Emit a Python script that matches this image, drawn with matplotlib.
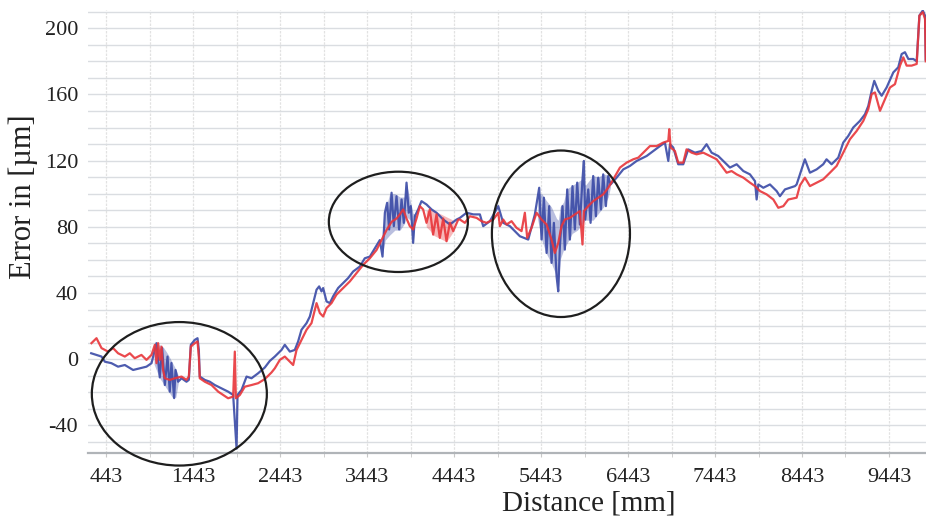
import matplotlib
matplotlib.use('Agg')
import matplotlib.pyplot as plt
from matplotlib.patches import Ellipse
from matplotlib.ticker import MultipleLocator, FixedLocator

plt.rcParams['font.family'] = ['Liberation Serif', 'DejaVu Serif']
plt.rcParams['axes.unicode_minus'] = False

# distance [mm] / error [um]
blue_x = [267, 386, 424, 500, 576, 654, 749, 826, 903, 961,
          1018, 1056, 1083, 1114, 1145, 1171, 1190, 1221, 1237, 1267,
          1306, 1363, 1390, 1413, 1459, 1490, 1505, 1516, 1574, 1631, 1689, 1766, 1842, 1900, 1939, 1950,
          1996, 2054, 2111, 2187, 2264, 2322, 2379, 2456, 2494, 2552, 2609, 2647, 2686, 2744, 2782,
          2820, 2859, 2889, 2916, 2935, 2974, 3012, 3050, 3107, 3165, 3222, 3280, 3357, 3414, 3472,
          3530, 3587, 3618, 3645, 3671, 3694, 3722, 3748, 3779, 3809, 3837, 3863, 3894, 3920, 3943,
          3970, 3990, 4028, 4066, 4124, 4182, 4239, 4316, 4393, 4470, 4508, 4585, 4662, 4738, 4776,
          4853, 4949, 5006, 5083, 5198, 5294, 5370, 5420, 5447, 5474, 5505, 5535, 5562, 5589, 5620,
          5639, 5658, 5688, 5715, 5742, 5773, 5803, 5830, 5857, 5888, 5918, 5934, 5949, 5984, 6011,
          6041, 6072, 6099, 6130, 6156, 6187, 6214, 6241, 6310, 6387, 6464, 6541, 6579, 6656, 6732,
          6809, 6866, 6905, 6924, 6962, 7019, 7077, 7134, 7211, 7288, 7345, 7403, 7479, 7556, 7614,
          7691, 7768, 7844, 7902, 7921, 7940, 7998, 8074, 8151, 8189, 8247, 8304, 8362, 8381, 8438,
          8476, 8534, 8611, 8687, 8725, 8783, 8860, 8917, 8975, 9032, 9109, 9167, 9205, 9244, 9274,
          9320, 9359, 9416, 9493, 9550, 9589, 9627, 9666, 9723, 9762, 9793, 9832, 9858, 9866]
blue_y = [3.6, 1.6, -1.5, -2.4, -4.5, -3.5, -6.5, -5.5, -4.5, -2.4,
          9.7, -11, 6.8, -15.6, 1.6, -19.6, -2.3, -23.5, -6.5, -13.6,
          -11.5, -13.6, -12.5, 8.7, 11.7, 12.7, 5.6, -10.5, -12.5, -13.6, -15.6, -17.6, -19.6, -21.6, -54, -21.6,
          -18.6, -10.5, -11.5, -8.5, -5, -1, 1.6, 5.6, 8.7, 4.6, 5.6, 10.7, 17.8, 21.8, 25.8,
          33.9, 42, 44, 41, 43, 34.9, 33.9, 38, 43, 46, 49, 53, 56, 61, 62,
          67, 72, 62, 88.5, 94.5, 78.4, 100.6, 80.4, 98.5, 78.4, 96.5, 82.4, 106.7, 88.5, 92.5,
          70.3, 86.4, 90.5, 95.5, 93.5, 90.5, 88.5, 84.4, 81.4, 84.4, 85.4, 88.5, 87.5, 87.5, 80.4,
          83.4, 92.5, 82.4, 80.4, 74.3, 72.3, 87.5, 103.6, 72.3, 97.6, 64.2, 92.5, 58.2, 82.4, 50.1,
          41, 68.2, 92.5, 66.2, 102.6, 72.3, 104.6, 78.4, 106.7, 81.4, 108.7, 119.8, 84.4, 102.6, 82.4,
          110.7, 86.4, 109.7, 90.5, 111.7, 92.5, 110.7, 105.6, 109.7, 114.7, 116.8, 119.8, 120.8, 122.8, 125.8,
          128.8, 130.9, 119.8, 129.9, 127.9, 117.8, 117.8, 126.8, 124.8, 125.8, 129.9, 124.8, 122.8, 118.8, 115.8,
          117.8, 113.7, 111.7, 107.6, 96.5, 105.6, 103.6, 105.6, 101.6, 98.5, 102.6, 103.6, 104.6, 105.6, 114.7,
          120.8, 112.7, 114.7, 117.8, 120.8, 117.8, 121.8, 130.9, 134.9, 140, 144, 148, 153, 162.2, 168.2,
          162.2, 159.2, 164.2, 173.3, 176.4, 184.4, 185.5, 181.4, 181.4, 180, 207.6, 210.7, 207.6, 181]

red_x = [270, 328, 386, 461, 519, 576, 654, 711, 768, 845, 903, 961,
         999, 1018, 1037, 1056, 1076, 1094, 1114, 1171, 1229, 1306, 1363, 1390, 1413, 1459, 1490,
         1505, 1516, 1574, 1651, 1728, 1785, 1842, 1900, 1919, 1931, 1977, 2034, 2111, 2187, 2264,
         2341, 2379, 2437, 2494, 2552, 2590, 2629, 2686, 2744, 2801, 2859, 2897, 2935, 2974, 3031,
         3088, 3165, 3242, 3318, 3395, 3472, 3549, 3606, 3664, 3722, 3779, 3817, 3856, 3894, 3932,
         3970, 4009, 4047, 4085, 4124, 4162, 4200, 4239, 4277, 4316, 4354, 4393, 4431, 4489, 4508,
         4565, 4623, 4700, 4757, 4815, 4891, 4949, 4968, 5006, 5044, 5102, 5159, 5217, 5255, 5282,
         5332, 5390, 5447, 5505, 5562, 5600, 5639, 5677, 5715, 5773, 5830, 5888, 5918, 5934, 5984,
         6041, 6099, 6156, 6214, 6272, 6349, 6426, 6502, 6560, 6617, 6694, 6771, 6847, 6905, 6916,
         6932, 6981, 7019, 7077, 7115, 7173, 7230, 7307, 7384, 7461, 7518, 7576, 7633, 7691, 7768,
         7844, 7902, 7959, 8036, 8113, 8170, 8228, 8285, 8381, 8419, 8476, 8534, 8611, 8687, 8764,
         8841, 8917, 8994, 9071, 9148, 9205, 9244, 9282, 9340, 9397, 9455, 9512, 9570, 9608, 9646,
         9704, 9762, 9793, 9832, 9858, 9866]
red_y = [9.7, 12.7, 6.7, 4.6, 6.7, 3.6, 1.6, 3.6, 0.6, 2.6, -0.4, 2.6,
         8.7, -2.4, 9.7, -0.4, 7.6, -6.5, -11.5, -12.5, -11.5, -10.5, -12.5, -10.5, 7.6, 9.7, 10.7,
         1.6, -11.5, -13.6, -15.6, -19.6, -21.6, -23.6, -22.6, 4.6, -23.6, -21.6, -16.6, -15.6, -14.5, -12,
         -8, -5.5, -0.4, 1.6, -1.5, -3.5, 5.6, 11.7, 17.8, 21.8, 33.9, 27.9, 25.8, 30.9, 33.9,
         39, 43, 47, 52, 57, 61, 66, 72, 78, 83, 85, 87.5, 90.5, 85, 80.4,
         78.4, 85, 92.5, 90.5, 82.4, 90.5, 75.3, 87.5, 73.3, 85, 71.3, 82.4, 77.4, 84.4, 84.4,
         82.4, 86.4, 85.4, 83.4, 82.4, 84.4, 88.5, 80.4, 84.4, 81.4, 83.4, 79.4, 77.4, 88.5, 73.3,
         79.4, 88.5, 84.4, 81.4, 72.3, 64.2, 70.3, 80.4, 84.4, 85.4, 87.5, 89.5, 69.3, 89.5, 92.5,
         95.5, 97.6, 99.6, 103.6, 108.7, 115.8, 118.8, 120.8, 121.8, 124.8, 128.8, 128.8, 130.9, 131.9, 139,
         127.9, 125.8, 118.8, 118.8, 126.8, 124.8, 123.8, 124.8, 122.8, 120.8, 116.8, 112.7, 113.7, 111.7, 109.7,
         106.7, 104.6, 101.6, 99.6, 96.5, 91.5, 92.5, 96.5, 97.6, 105, 109.7, 104.6, 106.7, 108.7, 112.7,
         116.8, 124.8, 132.9, 137.9, 144, 151.1, 160.2, 161.2, 150.1, 157.1, 164.2, 166.2, 177.4, 182.4, 177.4,
         177.4, 178.4, 207.6, 209.7, 205.6, 180]

# noisy bands (x, low, high) where the traces blur into a band
blue_band_x = [990, 1050, 1100, 1150, 1200, 1240, 1270, None,
               3610, 3650, 3700, 3760, 3820, 3870, 3894, 3940, 3970, 3990, None,
               5400, 5450, 5500, 5560, 5620, 5640, 5660, 5700, 5740, 5800, 5860, 5918, 5950, 6040, 6100, 6160, 6214, 6240]
blue_band_lo = [-3, -11, -15, -19, -23, -23, -14, None,
                62, 72, 75, 78, 78, 82, 86, 84, 70, 84, None,
                85, 72, 64, 58, 50, 41, 60, 66, 70, 76, 78, 82, 84, 84, 88, 92, 98, 104]
blue_band_hi = [2, 9, 7, 3, -2, -6, -10, None,
                70, 90, 100, 100, 98, 98, 106, 95, 88, 88, None,
                100, 100, 96, 92, 85, 84, 92, 95, 103, 105, 107, 109, 105, 111, 110, 112, 111, 106]
red_band_x = [4120, 4160, 4200, 4277, 4354, 4431]
red_band_lo = [80, 78, 75, 73, 71, 77]
red_band_hi = [90, 90, 90, 88, 86, 84]

x_ticks = [443, 1443, 2443, 3443, 4443, 5443, 6443, 7443, 8443, 9443]
y_ticks = [-40, 0, 40, 80, 120, 160, 200]

# circled regions: (centre x, centre y, width, height)
circles = [(1281, -20.9, 2013, 86.7),
           (3800, 83.0, 1599, 60.6),
           (5670, 75.8, 1588, 100.6)]

fig = plt.figure(figsize=(9.26, 5.27), dpi=100)
ax = fig.add_axes([0.095, 0.14, 0.905, 0.841])

# bands (split at None)
def bands(xs, lo, hi, color):
    seg = ([], [], [])
    for a, b, c in zip(xs + [None], lo + [None], hi + [None]):
        if a is None:
            if seg[0]:
                ax.fill_between(seg[0], seg[1], seg[2], color=color, alpha=0.35, lw=0)
            seg = ([], [], [])
        else:
            seg[0].append(a); seg[1].append(b); seg[2].append(c)

bands(blue_band_x, blue_band_lo, blue_band_hi, '#3a4aa6')
ax.plot(blue_x, blue_y, color='#3a4aa6', lw=1.6, alpha=0.9)
bands(red_band_x, red_band_lo, red_band_hi, '#e8353a')
ax.plot(red_x, red_y, color='#e8353a', lw=1.6, alpha=0.9)

for cx, cy, w, h in circles:
    ax.add_patch(Ellipse((cx, cy), w, h, fill=False, ec='#1e1e1e', lw=1.6, clip_on=False, zorder=5))

ax.set_xlim(230, 9869)
ax.set_ylim(-56.8, 211)
ax.xaxis.set_major_locator(FixedLocator(x_ticks))
ax.xaxis.set_minor_locator(FixedLocator([t + 500 for t in x_ticks]))
ax.yaxis.set_major_locator(FixedLocator(y_ticks))
ax.yaxis.set_minor_locator(MultipleLocator(10))

ax.grid(True, which='both', axis='y', color='#dadde1', lw=1.0)
ax.grid(True, which='both', axis='x', color='#e2e2e2', lw=0.9, ls=(0, (2, 1)))
ax.set_axisbelow(True)

for s in ['top', 'right', 'left']:
    ax.spines[s].set_visible(False)
ax.spines['bottom'].set_color('#b0b4b8')
ax.spines['bottom'].set_linewidth(1.6)

ax.tick_params(axis='both', which='both', length=0, labelsize=16, colors='#222222')
ax.tick_params(axis='x', which='both', length=3, color='#c8c8c8', pad=8)
ax.tick_params(axis='y', pad=7)

ax.set_xlabel('Distance [mm]', fontsize=21, color='#222222')
ax.set_ylabel('Error in [µm]', fontsize=22, color='#222222')
ax.xaxis.set_label_coords(0.597, -0.085)
ax.yaxis.set_label_coords(-0.06, 0.578)

plt.savefig('out.png', dpi=100)
